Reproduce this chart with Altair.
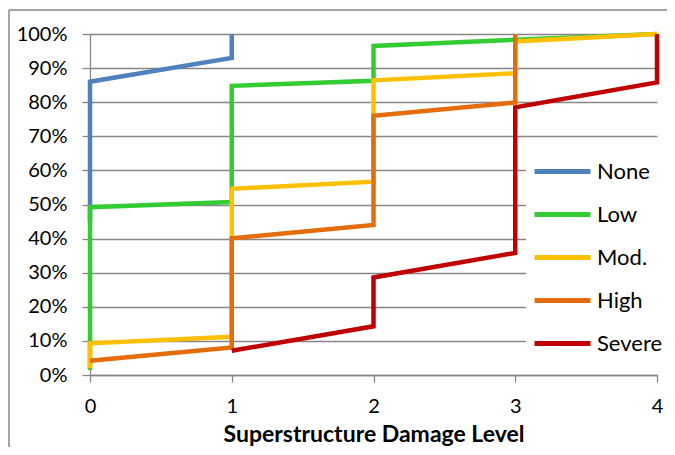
import altair as alt
import pandas as pd

series_names = ["None", "Low", "Mod.", "High", "Severe"]
series_colors = ["#4F81BD", "#33CC33", "#FFC000", "#E46C0A", "#C00000"]

x_none = [0, 0, 1, 1]
y_none = [0.45, 0.86, 0.93, 1.00]

x_low = [0, 0, 1, 1, 2, 2, 3, 4]
y_low = [0.015, 0.492, 0.507, 0.848, 0.863, 0.965, 0.983, 1.00]

x_mod = [0, 0, 1, 1, 2, 2, 3, 3, 4]
y_mod = [0.02, 0.093, 0.112, 0.546, 0.567, 0.864, 0.885, 0.978, 1.00]

x_high = [0, 1, 1, 2, 2, 3, 3]
y_high = [0.042, 0.081, 0.401, 0.44, 0.76, 0.799, 1.00]

x_severe = [1, 2, 2, 3, 3, 4, 4]
y_severe = [0.071, 0.143, 0.286, 0.358, 0.785, 0.858, 1.00]

x_ticks = [0, 1, 2, 3, 4]
y_ticks = [0, 0.1, 0.2, 0.3, 0.4, 0.5, 0.6, 0.7, 0.8, 0.9, 1.0]

rows = []
for name, xs, ys in zip(series_names,
                        [x_none, x_low, x_mod, x_high, x_severe],
                        [y_none, y_low, y_mod, y_high, y_severe]):
    for i, (xv, yv) in enumerate(zip(xs, ys)):
        rows.append({"series": name, "x": xv, "y": yv, "idx": i})
df = pd.DataFrame(rows)

FONT = "Lato"
GRID = "#868686"

lines = alt.Chart(df).mark_line(strokeWidth=4.5).encode(
    x=alt.X("x:Q",
            scale=alt.Scale(domain=[0, 4], nice=False, zero=False),
            axis=alt.Axis(values=x_ticks, format="d", grid=False,
                          labelFlush=False,
                          tickSize=7, labelPadding=14, labelFontSize=20,
                          title="Superstructure Damage Level",
                          titleFontSize=23, titleFontWeight="bold",
                          titleBaseline="alphabetic", titleY=66)),
    y=alt.Y("y:Q",
            scale=alt.Scale(domain=[0, 1], nice=False),
            axis=alt.Axis(values=y_ticks, format=".0%", grid=True,
                          labelFlush=False,
                          tickSize=8, labelPadding=15, labelFontSize=20,
                          title=None)),
    color=alt.Color("series:N",
                    scale=alt.Scale(domain=series_names, range=series_colors),
                    sort=series_names,
                    legend=alt.Legend(orient="none", legendX=436, legendY=105,
                                      title=None, fillColor="white", padding=2,
                                      symbolOffset=4,
                                      symbolType="stroke", symbolSize=3136,
                                      symbolStrokeWidth=5, labelFontSize=22,
                                      labelFont=FONT, labelOffset=4,
                                      rowPadding=1, labelColor="black")),
    order=alt.Order("idx:Q"),
)

frame_src = alt.Chart(pd.DataFrame({"a": [0]}))
frame_left = frame_src.mark_rule(stroke=GRID, strokeWidth=1.5, clip=False).encode(
    x=alt.value(-81), y=alt.value(-24), y2=alt.value(430)
)
frame_top = frame_src.mark_rule(stroke=GRID, strokeWidth=1.5, clip=False).encode(
    x=alt.value(-81), x2=alt.value(600), y=alt.value(-24)
)

chart = alt.layer(frame_left, frame_top, lines).properties(
    width=567, height=341,
    padding={"left": 82, "top": 26, "right": 10, "bottom": 72},
    autosize=alt.AutoSizeParams(type="none"),
    background="white",
    view=alt.ViewBackground(stroke="transparent", strokeWidth=0),
).configure_view(stroke="transparent", strokeWidth=0).configure_axis(
    gridColor=GRID, gridWidth=1.3, domainColor=GRID, domainWidth=1.3,
    tickColor=GRID, tickWidth=1.3, labelColor="black", titleColor="black",
    labelFont=FONT, titleFont=FONT,
)

chart.save("out.html", embed_options={"renderer": "svg", "actions": False})
